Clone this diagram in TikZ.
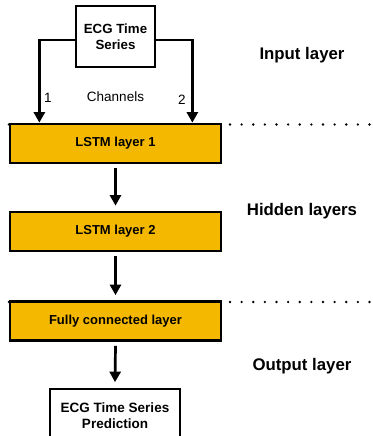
\documentclass[tikz,border=0pt]{standalone}
\usepackage{fontspec}
\setmainfont{Liberation Sans}
\usetikzlibrary{arrows.meta}
\definecolor{layerfill}{HTML}{F5B800}
\tikzset{
  plainbox/.style={draw=black, line width=2.7pt, fill=white, inner sep=0pt, align=center,
    font=\fontsize{13.3}{15.5}\selectfont\bfseries},
  layerbox/.style={draw=black, line width=2.7pt, fill=layerfill, inner sep=0pt,
    minimum width=211pt, minimum height=39pt, font=\fontsize{13}{15}\selectfont\bfseries},
  arr/.style={line width=2.7pt, -{Triangle[width=11pt,length=10.5pt]}},
  heading/.style={font=\fontsize{16.8}{19}\selectfont\bfseries, inner sep=0pt},
  small/.style={font=\fontsize{13.5}{15}\selectfont, inner sep=0pt},
  dotline/.style={line width=2.6pt, line cap=round, dash pattern=on 0pt off 11.63pt}
}
\begin{document}
\begin{tikzpicture}[x=1pt, y=-1pt]
  \useasboundingbox (0,0) rectangle (372,436);

  % layer separators
  \coordinate (sepA1) at (9,124.5);
  \coordinate (sepA2) at (372,124.5);
  \coordinate (sepB1) at (9,302);
  \coordinate (sepB2) at (372,302);
  \draw[dotline] (sepA1) -- (sepA2);
  \draw[dotline] (sepB1) -- (sepB2);

  % input
  \node[plainbox, minimum width=79pt, minimum height=61pt] (ecg) at (115.5,36.5) {ECG Time\\Series};

  % layers
  \node[layerbox] (l1) at (115.5,143.5) {LSTM layer 1};
  \node[layerbox] (l2) at (115.5,231.5) {LSTM layer 2};
  \node[layerbox] (fc) at (115.5,321) {Fully connected layer};

  % output
  \node[plainbox, minimum width=130pt, minimum height=53pt, font=\fontsize{13.5}{15.5}\selectfont\bfseries] (pred) at (115,415.5) {ECG Time Series\\Prediction};

  % channel connectors
  \draw[arr] ([yshift=-3.5pt]ecg.west) -| ([xshift=30.7pt]l1.north west);
  \draw[arr] ([yshift=-3.5pt]ecg.east) -| ([xshift=-30pt]l1.north east);
  \node[small] (ch1) at (48,97.5) {1};
  \node[small] (ch2) at (182,99.5) {2};
  \node[small] (chan) at (115.5,97) {Channels};

  % flow between layers
  \draw[arr] ([yshift=-4pt]l1.south) -- ([yshift=5pt]l2.north);
  \draw[arr] ([yshift=-4pt]l2.south) -- ([yshift=5pt]fc.north);
  \draw[arr] ([yshift=-4pt]fc.south) -- ([yshift=5.5pt]pred.north);

  % layer headings
  \node[heading] (hin) at (302,55) {Input layer};
  \node[heading] (hhid) at (302,211) {Hidden layers};
  \node[heading] (hout) at (302,366) {Output layer};
\end{tikzpicture}
\end{document}
